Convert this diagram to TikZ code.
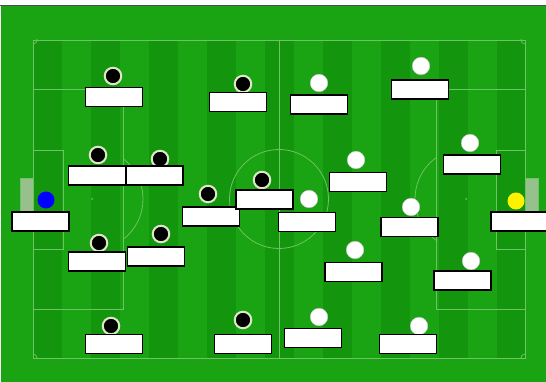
\documentclass[tikz,border=0pt]{standalone}
\definecolor{grass}{RGB}{26,163,18}
\definecolor{stripe}{RGB}{19,150,14}
\definecolor{chalk}{RGB}{110,196,98}
\definecolor{ring}{RGB}{222,232,200}
\definecolor{goalpost}{RGB}{150,192,140}
\begin{document}
\begin{tikzpicture}[x=1pt, y=-1pt,
	pitchline/.style={draw=chalk, line width=0.8pt},
	darkdot/.style={circle, fill=black, draw=ring, line width=2pt, minimum size=16.5pt, inner sep=0pt},
	lightdot/.style={circle, fill=white, draw=black!20, line width=0.4pt, minimum size=17.5pt, inner sep=0pt},
	keeper/.style={circle, minimum size=17pt, inner sep=0pt},
	namebox/.style={draw=black, fill=white, line width=1.5pt, minimum width=57pt, minimum height=19pt, inner sep=0pt}]
	\useasboundingbox (0,0) rectangle (546,382);
	\fill[white] (0,0) rectangle (546,382);
	\fill[grass] (1,6) rectangle (546,382);
	\draw[black!70, line width=1.5pt] (0,5.5) -- (546,5.5);
	% stripes
	\fill[stripe] (33,40) rectangle (62,358);
	\fill[stripe] (91,40) rectangle (120,358);
	\fill[stripe] (149,40) rectangle (178,358);
	\fill[stripe] (207,40) rectangle (236,358);
	\fill[stripe] (265,40) rectangle (294,358);
	\fill[stripe] (323,40) rectangle (352,358);
	\fill[stripe] (381,40) rectangle (410,358);
	\fill[stripe] (439,40) rectangle (468,358);
	\fill[stripe] (497,40) rectangle (525,358);
	% markings
	\draw[pitchline] (33,40) rectangle (525,358);
	\draw[pitchline] (279,40) -- (279,358);
	\draw[pitchline] (279,199) circle (49.5);
	\fill[chalk] (279,199) circle (1);
	\draw[pitchline] (33,89) rectangle (123,309);
	\draw[pitchline] (33,150) rectangle (63,249);
	\draw[pitchline] (436,89) rectangle (525,309);
	\draw[pitchline] (496,150) rectangle (525,249);
	\fill[chalk] (92,199) circle (1);
	\fill[chalk] (466,199) circle (1);
	\begin{scope}
		\clip (123,0) rectangle (200,382);
		\draw[pitchline] (92,199) circle (51);
	\end{scope}
	\begin{scope}
		\clip (360,0) rectangle (436,382);
		\draw[pitchline] (466,199) circle (51);
	\end{scope}
	\begin{scope}
		\clip (33,40) rectangle (525,358);
		\draw[pitchline] (33,40) circle (4);
		\draw[pitchline] (525,40) circle (4);
		\draw[pitchline] (33,358) circle (4);
		\draw[pitchline] (525,358) circle (4);
	\end{scope}
	% goals
	\draw[fill=goalpost, draw=chalk, line width=0.8pt] (20,178) rectangle (33,221);
	\draw[fill=goalpost, draw=chalk, line width=0.8pt] (525,178) rectangle (538,221);

	% home side
	\node[keeper, fill=blue] (keepL) at (46,200) {};
	\node[darkdot] (l1) at (113,76) {};
	\node[darkdot] (l2) at (243,84) {};
	\node[darkdot] (l3) at (98,155) {};
	\node[darkdot] (l4) at (160,159) {};
	\node[darkdot] (l5) at (208,194) {};
	\node[darkdot] (l6) at (262,180) {};
	\node[darkdot] (l7) at (99,243) {};
	\node[darkdot] (l8) at (161,234) {};
	\node[darkdot] (l9) at (111,326) {};
	\node[darkdot] (l10) at (243,320) {};
	% away side
	\node[keeper, fill=yellow] (keepR) at (516,201) {};
	\node[lightdot] (r1) at (319,83) {};
	\node[lightdot] (r2) at (421,66) {};
	\node[lightdot] (r3) at (356,160) {};
	\node[lightdot] (r4) at (470,143) {};
	\node[lightdot] (r5) at (309,199) {};
	\node[lightdot] (r6) at (411,207) {};
	\node[lightdot] (r7) at (355,250) {};
	\node[lightdot] (r8) at (471,261) {};
	\node[lightdot] (r9) at (319,317) {};
	\node[lightdot] (r10) at (419,326) {};

	% name boxes
	\node[namebox] (keepLbox) at (40.5,221.5) {};
	\node[namebox] (l1box) at (114,97) {};
	\node[namebox] (l2box) at (238,102) {};
	\node[namebox] (l3box) at (97,175.5) {};
	\node[namebox] (l4box) at (154.5,175.5) {};
	\node[namebox] (l5box) at (211,216.5) {};
	\node[namebox] (l6box) at (264.5,199.5) {};
	\node[namebox] (l7box) at (97,261.5) {};
	\node[namebox] (l8box) at (156,256.5) {};
	\node[namebox] (l9box) at (114,344) {};
	\node[namebox] (l10box) at (243,344) {};
	\node[namebox] (keepRbox) at (519.5,221.5) {};
	\node[namebox] (r1box) at (319,104.5) {};
	\node[namebox] (r2box) at (420,89.5) {};
	\node[namebox] (r3box) at (358,182) {};
	\node[namebox] (r4box) at (472,164.5) {};
	\node[namebox] (r5box) at (307,222) {};
	\node[namebox] (r6box) at (409.5,227) {};
	\node[namebox] (r7box) at (353.5,272) {};
	\node[namebox] (r8box) at (462.5,280.5) {};
	\node[namebox] (r9box) at (313,338) {};
	\node[namebox] (r10box) at (408,344) {};
\end{tikzpicture}
\end{document}
